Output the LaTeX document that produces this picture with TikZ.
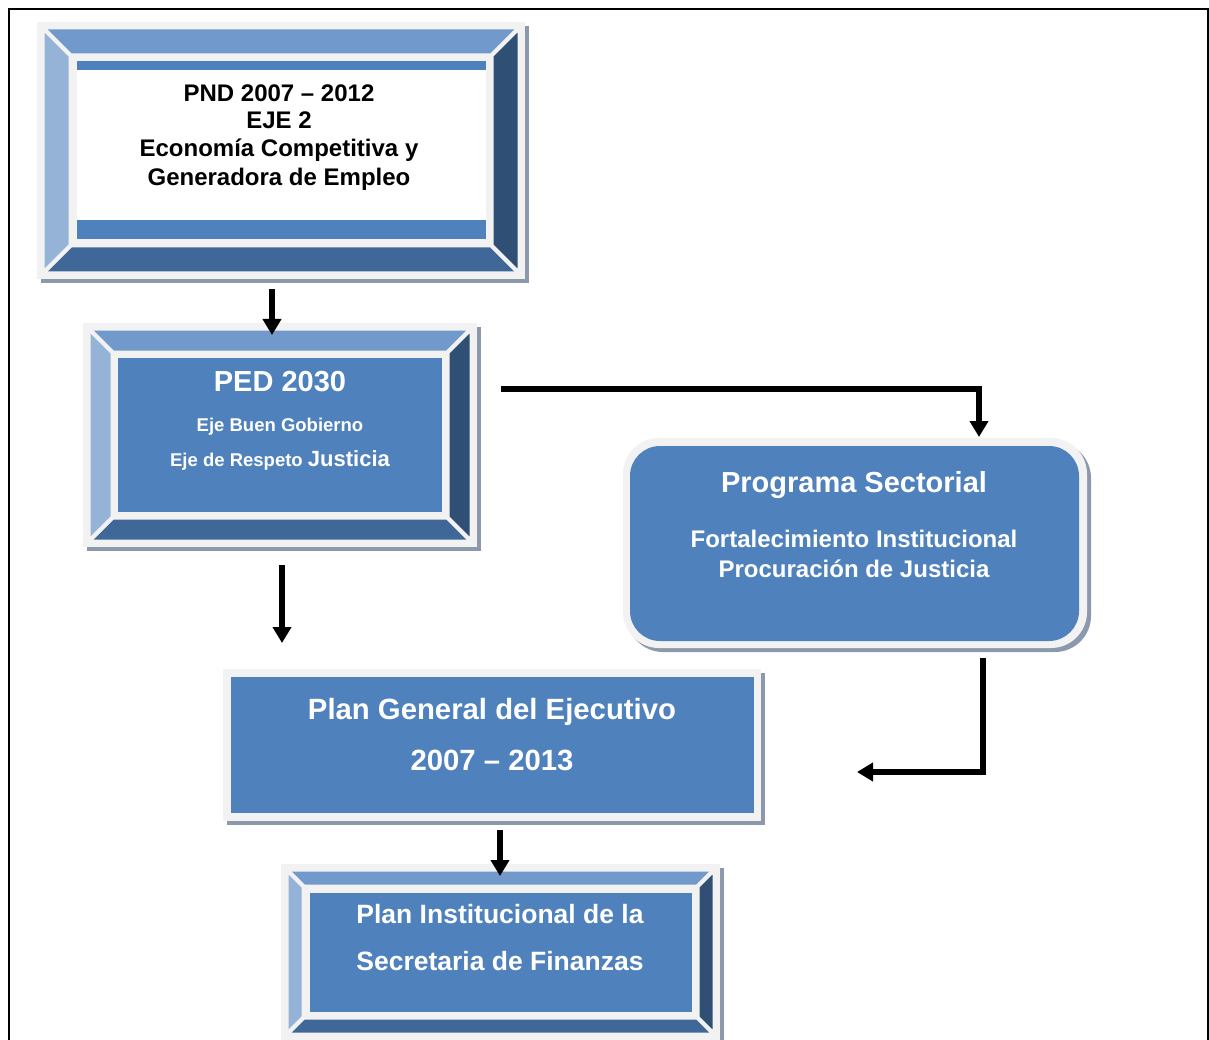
\documentclass[tikz,border=0pt]{standalone}
\usepackage{fontspec}
\setmainfont{Liberation Sans}
\usetikzlibrary{arrows.meta}
\definecolor{faceblue}{RGB}{79,129,189}
\definecolor{topbev}{RGB}{114,153,203}
\definecolor{leftbev}{RGB}{149,179,215}
\definecolor{rightbev}{RGB}{47,79,117}
\definecolor{botbev}{RGB}{63,103,152}
\definecolor{rimgray}{RGB}{242,242,242}
\definecolor{shadowc}{RGB}{140,152,172}
\newcommand\bevelbox[5]{%
  \fill[shadowc] ({#1+4},{#2+4}) rectangle ({#3+4},{#4+4});
  \fill[rimgray] (#1,#2) rectangle (#3,#4);
  \filldraw[bev,fill=topbev] ({#1+5.5},{#2+5.5}) -- ({#3-5.5},{#2+5.5}) -- ({#3-9.5-#5},{#2+9.5+#5}) -- ({#1+9.5+#5},{#2+9.5+#5}) -- cycle;
  \filldraw[bev,fill=botbev] ({#1+5.5},{#4-5.5}) -- ({#3-5.5},{#4-5.5}) -- ({#3-9.5-#5},{#4-9.5-#5}) -- ({#1+9.5+#5},{#4-9.5-#5}) -- cycle;
  \filldraw[bev,fill=leftbev] ({#1+5.5},{#2+5.5}) -- ({#1+9.5+#5},{#2+9.5+#5}) -- ({#1+9.5+#5},{#4-9.5-#5}) -- ({#1+5.5},{#4-5.5}) -- cycle;
  \filldraw[bev,fill=rightbev] ({#3-5.5},{#2+5.5}) -- ({#3-9.5-#5},{#2+9.5+#5}) -- ({#3-9.5-#5},{#4-9.5-#5}) -- ({#3-5.5},{#4-5.5}) -- cycle;
}
\tikzset{
  bev/.style={draw=rimgray, line width=4pt, line join=miter},
  face/.style={rectangle, inner sep=0, fill=faceblue},
  txt/.style={anchor=base, inner sep=0, text=white},
  arr/.style={line width=5.5pt, -{Triangle[length=16pt,width=18pt]}},
}
\begin{document}
\begin{tikzpicture}[x=1pt,y=-1pt]
\useasboundingbox (0,0) rectangle (1209,1040);
\fill[white] (0,0) rectangle (1209,1040);
\draw[line width=2pt] (9,1042) -- (9,9) -- (1207.5,9) -- (1207.5,1042);

% PND box
\bevelbox{37}{22}{525}{279}{24}
\node (pnd) [face, fill=white, minimum width=409, minimum height=178] at (281,150.5) {};
\fill[faceblue] (76.5,61.5) rectangle (485.5,70);
\fill[faceblue] (76.5,220) rectangle (485.5,239.5);
\node (pndA) [txt, text=black, font=\fontsize{24}{28}\selectfont\bfseries] at (279,102) {PND 2007 – 2012};
\node (pndB) [txt, text=black, font=\fontsize{24}{28}\selectfont\bfseries] at (279,129) {EJE 2};
\node (pndC) [txt, text=black, font=\fontsize{24}{28}\selectfont\bfseries] at (279,157) {Economía Competitiva y};
\node (pndD) [txt, text=black, font=\fontsize{24}{28}\selectfont\bfseries] at (279,186) {Generadora de Empleo};

% PED box
\bevelbox{83}{323}{477}{547}{20}
\node (ped) [face, minimum width=324, minimum height=154] at (280,435) {};
\node (pedA) [txt, font=\fontsize{29}{34}\selectfont\bfseries] at (280,391) {PED 2030};
\node (pedB) [txt, font=\fontsize{18.5}{22}\selectfont\bfseries] at (280,431) {Eje Buen Gobierno};
\node (pedC) [txt, font=\fontsize{18.5}{22}\selectfont\bfseries] at (280,466) {Eje de Respeto {\fontsize{22}{26}\selectfont Justicia}};

% Programa Sectorial
\fill[shadowc, rounded corners=36] (627,442) rectangle (1091,652);
\fill[rimgray, rounded corners=36] (623,438) rectangle (1087,648);
\node (ps) [face, rounded corners=30, minimum width=449, minimum height=195] at (854.5,543.5) {};
\node (psA) [txt, font=\fontsize{29}{34}\selectfont\bfseries] at (854,492) {Programa Sectorial};
\node (psB) [txt, font=\fontsize{24}{28}\selectfont\bfseries] at (854,547) {Fortalecimiento Institucional};
\node (psC) [txt, font=\fontsize{24}{28}\selectfont\bfseries] at (854,577) {Procuración de Justicia};

% Plan General
\fill[shadowc] (227,673) rectangle (765,825);
\fill[rimgray] (223,669) rectangle (761,821);
\node (pg) [face, minimum width=523, minimum height=136] at (492.5,745) {};
\node (pgA) [txt, font=\fontsize{29.3}{34}\selectfont\bfseries] at (492,719) {Plan General del Ejecutivo};
\node (pgB) [txt, font=\fontsize{29.3}{34}\selectfont\bfseries] at (492,770) {2007 – 2013};

% Plan Institucional
\bevelbox{281}{864}{720}{1040}{13}
\node (pi) [face, minimum width=382, minimum height=119] at (500.5,952) {};
\node (piA) [txt, font=\fontsize{26.5}{31}\selectfont\bfseries] at (500,923) {Plan Institucional de la};
\node (piB) [txt, font=\fontsize{26.5}{31}\selectfont\bfseries] at (500,970) {Secretaria de Finanzas};

% arrows
\coordinate (a1s) at (272,289);
\coordinate (a1e) at (272,335);
\coordinate (a2s) at (501,389);
\coordinate (a2k) at (979,389);
\coordinate (a2e) at (979,437);
\coordinate (a3s) at (282,565);
\coordinate (a3e) at (282,643);
\coordinate (a4s) at (983,658);
\coordinate (a4k) at (983,772);
\coordinate (a4e) at (857,772);
\coordinate (a5s) at (500,830);
\coordinate (a5e) at (500,876);
\draw[arr] (a1s) -- (a1e);
\draw[arr] (a2s) -- (a2k) -- (a2e);
\draw[arr] (a3s) -- (a3e);
\draw[arr] (a4s) -- (a4k) -- (a4e);
\draw[arr] (a5s) -- (a5e);
\end{tikzpicture}
\end{document}
